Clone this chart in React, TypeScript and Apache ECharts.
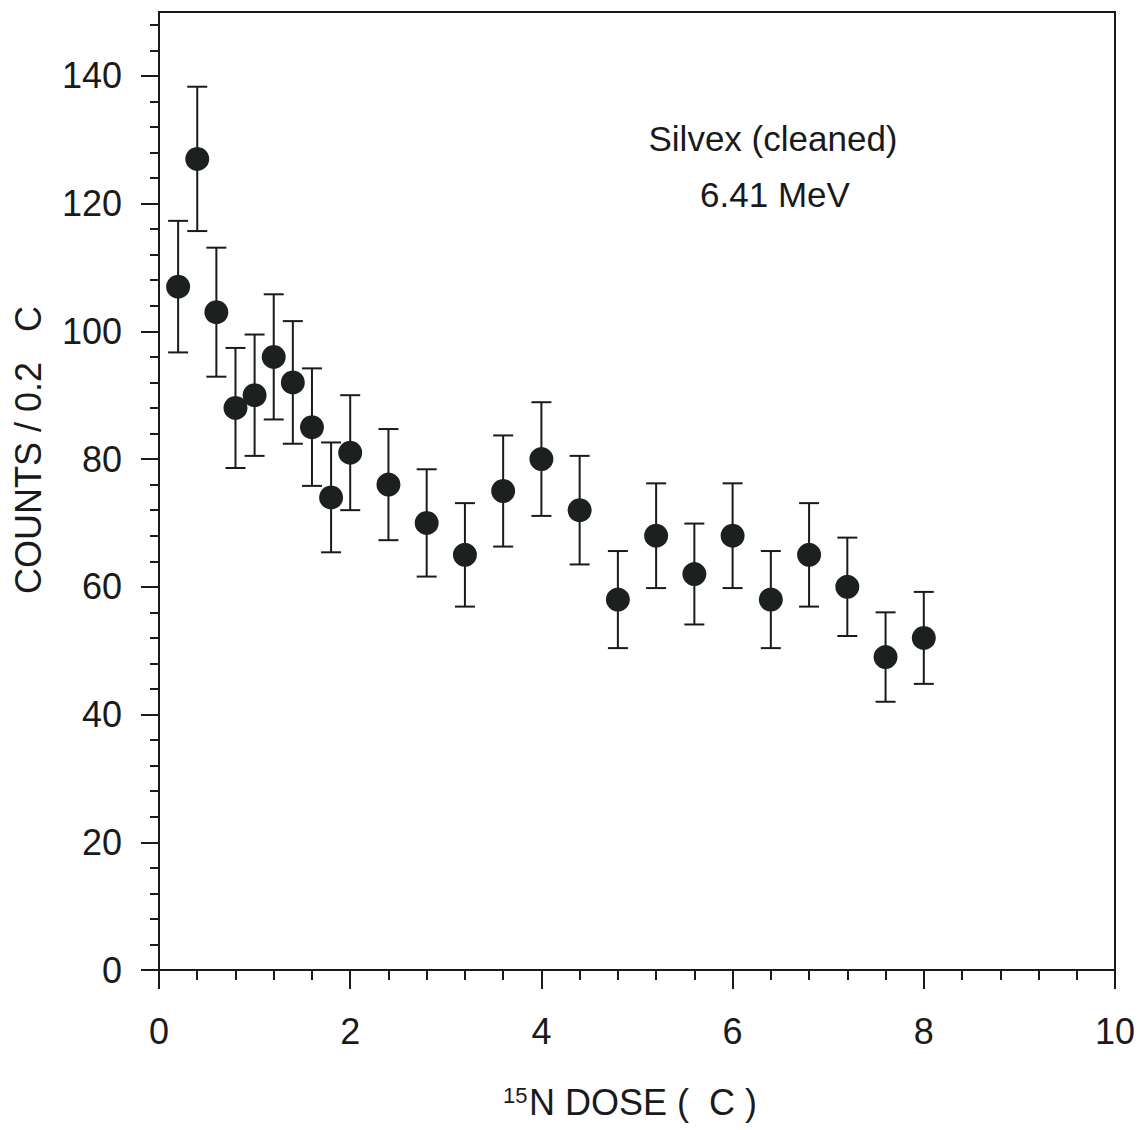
import React, { useEffect, useRef } from "react";
import * as echarts from "echarts";

const doseX = [0.2, 0.4, 0.6, 0.8, 1.0, 1.2, 1.4, 1.6, 1.8, 2.0, 2.4, 2.8, 3.2, 3.6, 4.0, 4.4, 4.8, 5.2, 5.6, 6.0, 6.4, 6.8, 7.2, 7.6, 8.0];
const counts = [107, 127, 103, 88, 90, 96, 92, 85, 74, 81, 76, 70, 65, 75, 80, 72, 58, 68, 62, 68, 58, 65, 60, 49, 52];
const errors = [10.3, 11.3, 10.1, 9.4, 9.5, 9.8, 9.6, 9.2, 8.6, 9.0, 8.7, 8.4, 8.1, 8.7, 8.9, 8.5, 7.6, 8.2, 7.9, 8.2, 7.6, 8.1, 7.7, 7.0, 7.2];

const yMajorTicks = [0, 20, 40, 60, 80, 100, 120, 140];
const yMinorTicks = [4, 8, 12, 16, 24, 28, 32, 36, 44, 48, 52, 56, 64, 68, 72, 76, 84, 88, 92, 96, 104, 108, 112, 116, 124, 128, 132, 136, 144, 148];

const FONT = "'Liberation Sans', Arial, sans-serif";
const INK = "#1a1a1a";

export default function App() {
  const ref = useRef<HTMLDivElement>(null);

  useEffect(() => {
    document.body.style.margin = "0";
    if (!ref.current) return;
    const chart = echarts.init(ref.current, undefined, { renderer: "svg" });

    const points = doseX.map((x, i) => [x, counts[i], errors[i]]);

    const option: any = {
      animation: false,
      backgroundColor: "#ffffff",
      grid: {
        left: 159,
        right: 27,
        top: 12,
        bottom: 160,
        show: true,
        borderColor: INK,
        borderWidth: 2,
        backgroundColor: "transparent",
      },
      xAxis: [
        {
          type: "value",
          min: 0,
          max: 10,
          interval: 2,
          axisLine: { show: true, onZero: false, lineStyle: { color: INK, width: 2 } },
          axisTick: { show: true, length: 19, lineStyle: { color: INK, width: 2 } },
          minorTick: { show: true, splitNumber: 5, length: 10, lineStyle: { color: INK, width: 2 } },
          splitLine: { show: false },
          minorSplitLine: { show: false },
          axisLabel: {
            margin: 61,
            verticalAlign: "middle",
            color: INK,
            fontSize: 36,
            fontFamily: FONT,
          },
        },
      ],
      yAxis: [
        {
          type: "value",
          min: 0,
          max: 150,
          axisLine: { show: true, onZero: false, lineStyle: { color: INK, width: 2 } },
          axisTick: { show: true, length: 18, customValues: yMajorTicks, lineStyle: { color: INK, width: 2 } },
          splitLine: { show: false },
          axisLabel: {
            customValues: yMajorTicks,
            margin: 37,
            color: INK,
            fontSize: 36,
            fontFamily: FONT,
          },
        },
        {
          type: "value",
          min: 0,
          max: 150,
          position: "left",
          axisLine: { show: false },
          axisTick: { show: true, length: 9, customValues: yMinorTicks, lineStyle: { color: INK, width: 2 } },
          splitLine: { show: false },
          axisLabel: { show: false },
        },
      ],
      series: [
        {
          type: "custom",
          xAxisIndex: 0,
          yAxisIndex: 0,
          data: points,
          encode: { x: 0, y: 1 },
          z: 2,
          renderItem: (params: any, api: any) => {
            const x = api.value(0);
            const y = api.value(1);
            const e = api.value(2);
            const top = api.coord([x, y + e]);
            const bot = api.coord([x, y - e]);
            const hw = 10;
            const style = { stroke: INK, lineWidth: 2 };
            return {
              type: "group",
              children: [
                { type: "line", shape: { x1: top[0], y1: top[1], x2: bot[0], y2: bot[1] }, style },
                { type: "line", shape: { x1: top[0] - hw, y1: top[1], x2: top[0] + hw, y2: top[1] }, style },
                { type: "line", shape: { x1: bot[0] - hw, y1: bot[1], x2: bot[0] + hw, y2: bot[1] }, style },
              ],
            };
          },
        },
        {
          type: "scatter",
          xAxisIndex: 0,
          yAxisIndex: 0,
          data: points.map((p) => [p[0], p[1]]),
          symbol: "circle",
          symbolSize: 24,
          itemStyle: { color: "#1c211f", opacity: 1 },
          z: 3,
        },
      ],
      graphic: [
        {
          type: "text",
          x: 28,
          y: 450,
          rotation: Math.PI / 2,
          style: {
            text: "COUNTS / 0.2\u00A0\u00A0\u00A0C",
            fontSize: 36,
            fontFamily: FONT,
            fill: INK,
            textAlign: "center",
            textVerticalAlign: "middle",
          },
        },
        {
          type: "text",
          x: 503,
          y: 1095,
          style: {
            text: "15",
            fontSize: 22,
            fontFamily: FONT,
            fill: INK,
            textAlign: "left",
            textVerticalAlign: "middle",
          },
        },
        {
          type: "text",
          x: 529,
          y: 1102,
          style: {
            text: "N DOSE (\u00A0\u00A0C )",
            fontSize: 36,
            fontFamily: FONT,
            fill: INK,
            textAlign: "left",
            textVerticalAlign: "middle",
          },
        },
        {
          type: "text",
          x: 773,
          y: 138,
          style: {
            text: "Silvex (cleaned)",
            fontSize: 35,
            fontFamily: FONT,
            fill: INK,
            textAlign: "center",
            textVerticalAlign: "middle",
          },
        },
        {
          type: "text",
          x: 775,
          y: 194,
          style: {
            text: "6.41 MeV",
            fontSize: 35,
            fontFamily: FONT,
            fill: INK,
            textAlign: "center",
            textVerticalAlign: "middle",
          },
        },
      ],
    };

    chart.setOption(option);
    return () => {
      chart.dispose();
    };
  }, []);

  return (
    <div
      ref={ref}
      style={{ position: "absolute", left: 0, top: 0, width: 1142, height: 1130 }}
    />
  );
}
